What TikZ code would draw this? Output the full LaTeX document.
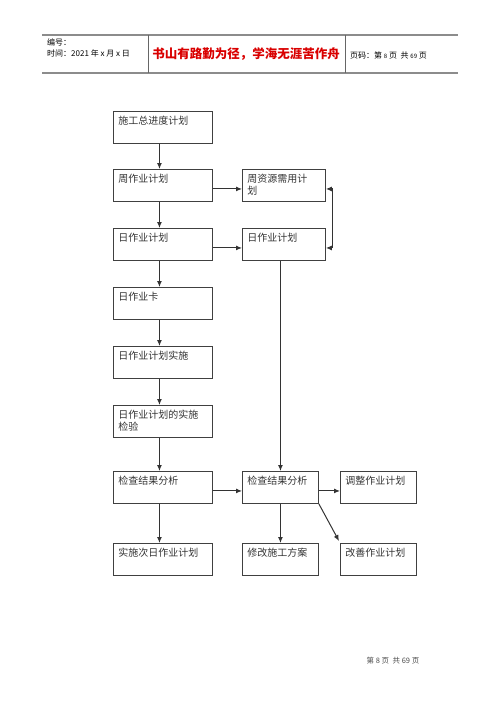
\documentclass[tikz,border=0pt]{standalone}
\usepackage{fontspec}
\setmainfont{Noto Sans CJK SC}
\usetikzlibrary{arrows.meta}

\tikzset{
	box/.style={draw=black!75, line width=0.9bp, rectangle, anchor=north west, inner sep=5bp,
		align=left, text height=8bp, text depth=14bp, font=\fontsize{10bp}{12bp}\selectfont, text=black!80},
	arr/.style={draw=black!80, line width=1bp, -{Latex[length=6bp,width=5bp]}},
	hdr/.style={draw=black!45, line width=1.2bp}
}

\begin{document}
\begin{tikzpicture}[x=1bp,y=-1bp]
\useasboundingbox (0,0) rectangle (500,707);
\draw[hdr] (42,35) -- (458,35);
\draw[hdr] (42,73) -- (458,73);
\draw[draw=black!60, line width=0.9bp] (148,35) -- (148,73);
\draw[draw=black!60, line width=0.9bp] (345,35) -- (345,73);
\node[anchor=west, inner sep=0, font=\fontsize{8bp}{10bp}\selectfont] (num) at (47,42) {编号：};
\node[anchor=west, inner sep=0, font=\fontsize{8bp}{10bp}\selectfont] (date) at (47,53) {时间：2021 年 x 月 x 日};
\node[inner sep=0, text=red!85!black, font=\fontsize{12.5bp}{14bp}\bfseries\selectfont] (motto) at (246,54) {书山有路勤为径，学海无涯苦作舟};
\node[anchor=west, inner sep=0, font=\fontsize{8bp}{10bp}\selectfont] (page) at (350,55) {页码：第 {\fontsize{6bp}{8bp}\selectfont 8} 页\ \ 共 {\fontsize{6bp}{8bp}\selectfont 69} 页};

\node[box, text width=89bp] (plan) at (113,111) {施工总进度计划};
\node[box, text width=89bp] (week) at (113,169) {周作业计划};
\node[box, text width=89bp] (day) at (113,228) {日作业计划};
\node[box, text width=89bp] (card) at (113,287) {日作业卡};
\node[box, text width=89bp] (exec) at (113,346) {日作业计划实施};
\node[box, text width=89bp] (check) at (113,405) {日作业计划的实施\\检验};
\node[box, text width=89bp] (anl) at (113,471) {检查结果分析};
\node[box, text width=89bp] (next) at (113,543) {实施次日作业计划};

\node[box, text width=73bp] (res) at (242,169) {周资源需用计\\划};
\node[box, text width=73bp] (dayr) at (242,228) {日作业计划};
\node[box, text width=66bp] (anlr) at (242,471) {检查结果分析};
\node[box, text width=66bp] (modify) at (242,543) {修改施工方案};
\node[box, text width=66bp] (adjust) at (340,471) {调整作业计划};
\node[box, text width=66bp] (improve) at (340,543) {改善作业计划};

\draw[arr] ([xshift=-3.5bp]plan.south) -- ([xshift=-3.5bp]week.north);
\draw[arr] ([xshift=-3.5bp]week.south) -- ([xshift=-3.5bp]day.north);
\draw[arr] ([xshift=-3.5bp]day.south) -- ([xshift=-3.5bp]card.north);
\draw[arr] ([xshift=-3.5bp]card.south) -- ([xshift=-3.5bp]exec.north);
\draw[arr] ([xshift=-3.5bp]exec.south) -- ([xshift=-3.5bp]check.north);
\draw[arr] ([xshift=-3.5bp]check.south) -- ([xshift=-3.5bp]anl.north);
\draw[arr] ([xshift=-3.5bp]anl.south) -- ([xshift=-3.5bp]next.north);

\draw[arr] ([yshift=-3.5bp]week.east) -- ([yshift=-3.5bp]res.west);
\draw[arr] ([yshift=-3.5bp]day.east) -- ([yshift=-3.5bp]dayr.west);
\draw[arr, {Latex[length=6bp,width=5bp]}-{Latex[length=6bp,width=5bp]}] ([yshift=-3.5bp]res.east) -- ++(7,0) |- ([yshift=-3.5bp]dayr.east);
\draw[arr] (dayr.south -| anlr.north) -- (anlr.north);

\draw[arr] ([yshift=-3.5bp]anl.east) -- ([yshift=-3.5bp]anlr.west);
\draw[arr] ([yshift=-3.5bp]anlr.east) -- ([yshift=-3.5bp]adjust.west);
\draw[arr] (anlr.south) -- (modify.north);
\draw[arr] (anlr.south east) -- ([shift={(-1bp,2bp)}]improve.north west);

\node[inner sep=0, font=\fontsize{7.5bp}{9bp}\selectfont, text=black!70] (foot) at (393,661) {第\ 8\ 页\ \ 共\ 69\ 页};
\end{tikzpicture}
\end{document}
